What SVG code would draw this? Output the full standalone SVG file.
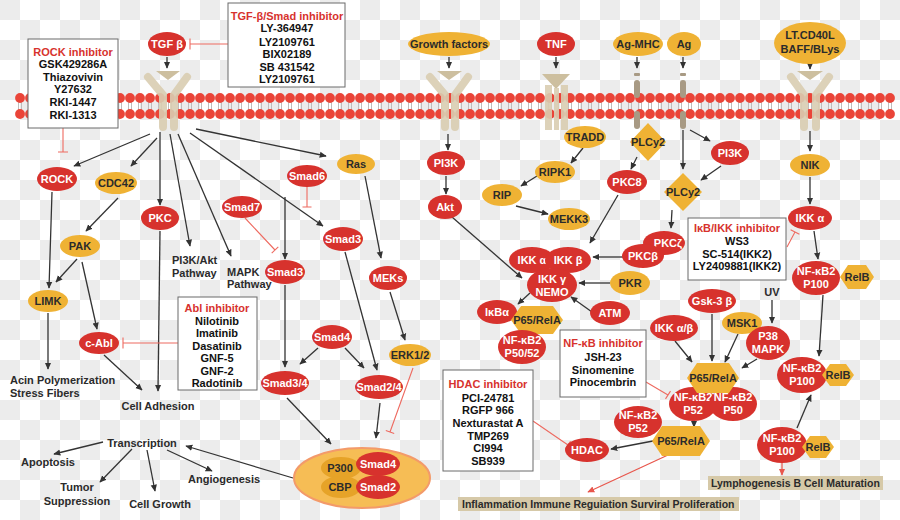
<svg xmlns="http://www.w3.org/2000/svg" width="900" height="520" viewBox="0 0 900 520">
<style>
.r{fill:#d7322d}
.o{fill:#efb234}
.d{fill:#e6a328}
.tw{fill:#fff;font:bold 11px "Liberation Sans",Arial,sans-serif;text-anchor:middle}
.tk{fill:#2b2b2b;font:bold 11px "Liberation Sans",Arial,sans-serif;text-anchor:middle}
.tl{fill:#2b2b2b;font:bold 11px "Liberation Sans",Arial,sans-serif}
.th{fill:#d7322d;font:bold 11px "Liberation Sans",Arial,sans-serif;text-anchor:middle}
.tb{fill:#111;font:bold 11px "Liberation Sans",Arial,sans-serif;text-anchor:middle}
.box{fill:#fff;stroke:#6a6a6a;stroke-width:1}
.ar{stroke:#333;stroke-width:1.3;fill:none;marker-end:url(#ah)}
.ra{stroke:#e8564c;stroke-width:1.2;fill:none;marker-end:url(#rh)}
.inh{stroke:#ee6a60;stroke-width:1.1;fill:none}
.rc{stroke:#d9cdb1;stroke-width:8;fill:none;stroke-linecap:round;opacity:0.9}
.rs{fill:#d9cdb1;opacity:0.9}
.tri{fill:#cdbf9f}
.bar{fill:#a89a84}
.lab{fill:#d6c9a8}
</style>
<defs>
<pattern id="chk" patternUnits="userSpaceOnUse" width="40" height="40">
<rect width="40" height="40" fill="#ffffff"/>
<rect width="20" height="20" fill="#ececec"/>
<rect x="20" y="20" width="20" height="20" fill="#ececec"/>
</pattern>
<pattern id="mem" patternUnits="userSpaceOnUse" x="15" y="92" width="10" height="28">
<line x1="3.5" y1="10" x2="3.5" y2="18" stroke="#bdbdbd" stroke-width="1"/>
<line x1="6.5" y1="10" x2="6.5" y2="18" stroke="#bdbdbd" stroke-width="1"/>
<circle cx="5" cy="6" r="4.9" fill="#ea4438"/>
<circle cx="5" cy="22" r="4.9" fill="#ea4438"/>
</pattern>
<marker id="ah" viewBox="0 0 10 10" refX="9" refY="5" markerWidth="7" markerHeight="7" markerUnits="userSpaceOnUse" orient="auto">
<path d="M0,0.5 L10,5 L0,9.5 z" fill="#333"/>
</marker>
<marker id="rh" viewBox="0 0 10 10" refX="9" refY="5" markerWidth="7" markerHeight="7" markerUnits="userSpaceOnUse" orient="auto">
<path d="M0,0.5 L10,5 L0,9.5 z" fill="#e8564c"/>
</marker>
</defs>

<rect width="900" height="520" fill="url(#chk)"/>

<g id="membrane">
<rect x="15" y="92" width="880" height="28" fill="url(#mem)"/>
</g>

<g id="receptors">
<polygon class="tri" points="156,71 180,71 168,80"/>
<path class="rc" d="M148,77 L163,95 L163,127"/>
<path class="rc" d="M187,77 L174,95 L174,127"/>
<polygon class="tri" points="437,71 462,71 449,80"/>
<path class="rc" d="M430,77 L445,95 L445,127"/>
<path class="rc" d="M468,77 L455,95 L455,127"/>
<polygon class="tri" points="542,74 570,74 556,89"/>
<rect class="rs" x="545" y="85" width="7" height="45"/>
<rect class="rs" x="554" y="88" width="5" height="42"/>
<rect class="rs" x="561" y="85" width="7" height="45"/>
<rect class="bar" x="634" y="73" width="6" height="3" rx="1"/>
<rect class="bar" x="634" y="80" width="6" height="18" rx="3"/>
<rect class="bar" x="634" y="111" width="6" height="18" rx="3"/>
<rect class="bar" x="680" y="73" width="6" height="3" rx="1"/>
<rect class="bar" x="680" y="80" width="6" height="18" rx="3"/>
<rect class="bar" x="680" y="111" width="6" height="18" rx="3"/>
<polygon class="tri" points="797,71 823,71 810,80"/>
<path class="rc" d="M791,77 L804,95 L804,127"/>
<path class="rc" d="M829,77 L816,95 L816,127"/>
</g>

<g id="connectors">
<line class="ar" x1="167" y1="57" x2="167" y2="68"/>
<line class="ar" x1="150" y1="134" x2="74" y2="166"/>
<line class="ar" x1="157" y1="138" x2="131" y2="166"/>
<line class="ar" x1="160" y1="132" x2="160" y2="205"/>
<line class="ar" x1="170" y1="134" x2="190" y2="246"/>
<line class="ar" x1="178" y1="134" x2="231" y2="256"/>
<line class="ar" x1="190" y1="133" x2="323" y2="226"/>
<line class="ar" x1="196" y1="129" x2="326" y2="156"/>
<line class="ar" x1="285" y1="197" x2="285" y2="259"/>
<line class="ar" x1="52" y1="192" x2="49" y2="288"/>
<line class="ar" x1="118" y1="198" x2="86" y2="231"/>
<line class="ar" x1="77" y1="259" x2="56" y2="282"/>
<line class="ar" x1="82" y1="262" x2="97" y2="329"/>
<line class="ar" x1="160" y1="231" x2="158" y2="391"/>
<line class="ar" x1="48" y1="313" x2="48" y2="369"/>
<line class="ar" x1="104" y1="355" x2="142" y2="390"/>
<line class="ar" x1="365" y1="176" x2="381" y2="258"/>
<line class="ar" x1="390" y1="292" x2="405" y2="340"/>
<line class="ar" x1="345" y1="252" x2="377" y2="370"/>
<line class="ar" x1="285" y1="285" x2="285" y2="367"/>
<line class="ar" x1="318" y1="348" x2="300" y2="364"/>
<line class="ar" x1="345" y1="348" x2="364" y2="368"/>
<line class="ar" x1="287" y1="398" x2="331" y2="444"/>
<line class="ar" x1="380" y1="403" x2="376" y2="438"/>
<line class="ar" x1="293" y1="478" x2="186" y2="446"/>
<line class="ar" x1="103" y1="442" x2="54" y2="454"/>
<line class="ar" x1="132" y1="449" x2="100" y2="482"/>
<line class="ar" x1="147" y1="450" x2="155" y2="491"/>
<line class="ar" x1="167" y1="450" x2="212" y2="471"/>

<line class="ar" x1="449" y1="57" x2="449" y2="68"/>
<line class="ar" x1="448" y1="134" x2="448" y2="150"/>
<line class="ar" x1="446" y1="176" x2="446" y2="194"/>
<line class="ar" x1="452" y1="217" x2="522" y2="278"/>
<line class="ar" x1="556" y1="57" x2="556" y2="68"/>
<line class="ar" x1="583" y1="148" x2="571" y2="163"/>
<line class="ar" x1="537" y1="176" x2="521" y2="186"/>
<line class="ar" x1="516" y1="206" x2="548" y2="214"/>
<line class="ar" x1="637" y1="57" x2="637" y2="68"/>
<line class="ar" x1="683" y1="57" x2="683" y2="68"/>
<line class="ar" x1="637" y1="157" x2="631" y2="169"/>
<line class="ar" x1="618" y1="195" x2="590" y2="243"/>
<line class="ar" x1="690" y1="130" x2="710" y2="141"/>
<line class="ar" x1="683" y1="130" x2="683" y2="169"/>
<line class="ar" x1="721" y1="166" x2="701" y2="180"/>
<line class="ar" x1="672" y1="210" x2="671" y2="228"/>
<line class="ar" x1="624" y1="257" x2="593" y2="257"/>
<line class="ar" x1="610" y1="283" x2="579" y2="283"/>
<line class="ar" x1="592" y1="312" x2="571" y2="297"/>
<line class="ar" x1="530" y1="293" x2="518" y2="304"/>

<line class="ar" x1="810" y1="57" x2="810" y2="69"/>
<line class="ar" x1="810" y1="131" x2="810" y2="151"/>
<line class="ar" x1="810" y1="177" x2="810" y2="204"/>
<line class="ar" x1="814" y1="231" x2="818" y2="259"/>
<line class="ar" x1="772" y1="300" x2="772" y2="323"/>
<line class="ar" x1="823" y1="295" x2="819" y2="356"/>
<line class="ar" x1="797" y1="428" x2="811" y2="395"/>
<line class="ar" x1="675" y1="341" x2="692" y2="362"/>
<line class="ar" x1="712" y1="314" x2="712" y2="361"/>
<line class="ar" x1="738" y1="334" x2="725" y2="362"/>
<line class="ar" x1="757" y1="359" x2="742" y2="368"/>
<line class="ar" x1="694" y1="419" x2="694" y2="427"/>
<line class="ar" x1="653" y1="441" x2="611" y2="449"/>
<line class="ra" x1="782" y1="463" x2="782" y2="475"/>
<line class="ra" x1="668" y1="455" x2="588" y2="492"/>

<path class="inh" d="M228,44 H190 M190,38.5 V49.5"/>
<path class="inh" d="M63,128 V152 M58,152 H68"/>
<path class="inh" d="M307,187 V207 M302.5,207 H311.5"/>
<path class="inh" d="M245,218 L275,250 M271.7,253.1 L278.3,246.9"/>
<path class="inh" d="M178,343 H123 M123,337.5 V348.5"/>
<path class="inh" d="M413,368 L390,432 M385.8,430.5 L394.2,433.5"/>
<path class="inh" d="M787,247 L795,232 M790.6,229.7 L799.4,234.3"/>
<path class="inh" d="M533,421 L568,445 M565.5,448.8 L570.5,441.2"/>
<path class="inh" d="M646,382 L668,395 M665.5,398.9 L670.5,391.1"/>
</g>

<g id="tgfb"><ellipse class="r" cx="167" cy="44" rx="19" ry="12"/><text class="tw" x="167" y="48">TGF β</text></g>
<g id="growth-factors"><ellipse class="o" cx="449" cy="44" rx="41" ry="12"/><text class="tk" x="449" y="48">Growth factors</text></g>
<g id="tnf"><ellipse class="r" cx="556" cy="44" rx="19" ry="12"/><text class="tw" x="556" y="48">TNF</text></g>
<g id="ag-mhc"><ellipse class="o" cx="638" cy="44" rx="25" ry="12"/><text class="tk" x="638" y="48">Ag-MHC</text></g>
<g id="ag"><ellipse class="o" cx="684" cy="44" rx="17" ry="12"/><text class="tk" x="684" y="48">Ag</text></g>
<g id="lt"><ellipse class="o" cx="810" cy="43" rx="36" ry="21"/><text class="tk" x="810" y="39">LT.CD40L</text><text class="tk" x="810" y="53">BAFF/BLys</text></g>

<g id="rock-inhibitor"><rect class="box" x="28" y="39" width="90" height="89"/>
<text class="th" x="73" y="56">ROCK inhibitor</text>
<text class="tb" x="73" y="68">GSK429286A</text>
<text class="tb" x="73" y="81">Thiazovivin</text>
<text class="tb" x="73" y="93">Y27632</text>
<text class="tb" x="73" y="106">RKI-1447</text>
<text class="tb" x="73" y="119">RKI-1313</text></g>

<g id="tgfb-inhibitor"><rect class="box" x="228" y="3" width="117" height="84"/>
<text class="th" x="287" y="20">TGF-β/Smad inhibitor</text>
<text class="tb" x="287" y="32">LY-364947</text>
<text class="tb" x="287" y="46">LY2109761</text>
<text class="tb" x="287" y="58">BIX02189</text>
<text class="tb" x="287" y="71">SB 431542</text>
<text class="tb" x="287" y="83">LY2109761</text></g>

<g id="rock"><ellipse class="r" cx="57" cy="179" rx="20" ry="12"/><text class="tw" x="57" y="183">ROCK</text></g>
<g id="cdc42"><ellipse class="o" cx="116" cy="183" rx="21" ry="11"/><text class="tk" x="116" y="187">CDC42</text></g>
<g id="pkc"><ellipse class="r" cx="160" cy="218" rx="19" ry="12"/><text class="tw" x="160" y="222">PKC</text></g>
<g id="pak"><ellipse class="o" cx="80" cy="246" rx="20" ry="11"/><text class="tk" x="80" y="250">PAK</text></g>
<g id="pi3k-akt-pathway"><text class="tl" x="172" y="264">PI3K/Akt</text><text class="tl" x="172" y="277">Pathway</text></g>
<g id="mapk-pathway"><text class="tl" x="227" y="276">MAPK</text><text class="tl" x="227" y="288">Pathway</text></g>
<g id="limk"><ellipse class="o" cx="48" cy="301" rx="20" ry="11"/><text class="tk" x="48" y="305">LIMK</text></g>
<g id="c-abl"><ellipse class="r" cx="99" cy="343" rx="20" ry="11"/><text class="tw" x="99" y="347">c-Abl</text></g>
<g id="acin"><text class="tl" x="10" y="384">Acin Polymerization</text><text class="tl" x="10" y="397">Stress Fibers</text></g>
<g id="cell-adhesion"><text class="tk" x="158" y="410">Cell Adhesion</text></g>

<g id="abl-inhibitor"><rect class="box" x="178" y="297" width="79" height="93"/>
<text class="th" x="217" y="312">Abl inhibitor</text>
<text class="tb" x="217" y="325">Nilotinib</text>
<text class="tb" x="217" y="337">Imatinib</text>
<text class="tb" x="217" y="350">Dasatinib</text>
<text class="tb" x="217" y="362">GNF-5</text>
<text class="tb" x="217" y="375">GNF-2</text>
<text class="tb" x="217" y="387">Radotinib</text></g>

<g id="smad6"><ellipse class="r" cx="307" cy="176" rx="20" ry="11"/><text class="tw" x="307" y="180">Smad6</text></g>
<g id="smad7"><ellipse class="r" cx="242" cy="207" rx="20" ry="11"/><text class="tw" x="242" y="211">Smad7</text></g>
<g id="ras"><ellipse class="o" cx="356" cy="164" rx="19" ry="10"/><text class="tk" x="356" y="168">Ras</text></g>
<g id="smad3-a"><ellipse class="r" cx="343" cy="239" rx="20" ry="12"/><text class="tw" x="343" y="243">Smad3</text></g>
<g id="smad3-b"><ellipse class="r" cx="285" cy="272" rx="20" ry="12"/><text class="tw" x="285" y="276">Smad3</text></g>
<g id="meks"><ellipse class="r" cx="388" cy="278" rx="19" ry="12"/><text class="tw" x="388" y="282">MEKs</text></g>
<g id="smad4"><ellipse class="r" cx="332" cy="337" rx="20" ry="12"/><text class="tw" x="332" y="341">Smad4</text></g>
<g id="erk"><ellipse class="o" cx="410" cy="355" rx="21" ry="11"/><text class="tk" x="410" y="359">ERK1/2</text></g>
<g id="smad34"><ellipse class="r" cx="285" cy="383" rx="24" ry="12"/><text class="tw" x="285" y="387">Smad3/4</text></g>
<g id="smad24"><ellipse class="r" cx="379" cy="387" rx="24" ry="12"/><text class="tw" x="379" y="391">Smad2/4</text></g>

<g id="complex">
<ellipse cx="362" cy="478" rx="68" ry="30" fill="#f6bd55" stroke="#f39a6a" stroke-width="2"/>
<ellipse class="d" cx="341" cy="468" rx="20" ry="11"/>
<ellipse class="d" cx="341" cy="487" rx="20" ry="11"/>
<ellipse class="r" cx="378" cy="464" rx="22" ry="12"/>
<ellipse class="r" cx="378" cy="487" rx="22" ry="12"/>
<text class="tk" x="340" y="472">P300</text>
<text class="tk" x="340" y="491">CBP</text>
<text class="tw" x="378" y="468">Smad4</text>
<text class="tw" x="378" y="491">Smad2</text>
</g>

<g id="transcription"><text class="tk" x="142" y="447">Transcription</text></g>
<g id="apoptosis"><text class="tk" x="48" y="466">Apoptosis</text></g>
<g id="tumor"><text class="tk" x="77" y="491">Tumor</text><text class="tk" x="77" y="505">Suppression</text></g>
<g id="cell-growth"><text class="tk" x="160" y="508">Cell Growth</text></g>
<g id="angiogenesis"><text class="tl" x="188" y="483">Angiogenesis</text></g>

<g id="pi3k-a"><ellipse class="r" cx="446" cy="163" rx="19" ry="12"/><text class="tw" x="446" y="167">PI3K</text></g>
<g id="akt"><ellipse class="r" cx="445" cy="207" rx="17" ry="12"/><text class="tw" x="445" y="211">Akt</text></g>
<g id="tradd"><ellipse class="o" cx="585" cy="137" rx="21" ry="11"/><text class="tk" x="585" y="141">TRADD</text></g>
<g id="ripk1"><ellipse class="o" cx="555" cy="172" rx="20" ry="11"/><text class="tk" x="555" y="176">RIPK1</text></g>
<g id="rip"><ellipse class="o" cx="502" cy="195" rx="20" ry="11"/><text class="tk" x="502" y="199">RIP</text></g>
<g id="mekk3"><ellipse class="o" cx="569" cy="219" rx="21" ry="11"/><text class="tk" x="569" y="223">MEKK3</text></g>
<g id="plcy2-a"><polygon class="o" points="648,123 666,142 648,161 630,142"/><text class="tk" x="648" y="146">PLCy2</text></g>
<g id="pkc8"><ellipse class="r" cx="627" cy="182" rx="20" ry="12"/><text class="tw" x="627" y="186">PKC8</text></g>
<g id="pi3k-b"><ellipse class="r" cx="730" cy="153" rx="19" ry="12"/><text class="tw" x="730" y="157">PI3K</text></g>
<g id="plcy2-b"><polygon class="o" points="683,173 702,192 683,211 664,192"/><text class="tk" x="683" y="196">PLCy2</text></g>
<g id="pkcz"><ellipse class="r" cx="664" cy="243" rx="21" ry="12"/><text class="tw" x="668" y="247">PKCζ</text></g>
<g id="pkcb"><ellipse class="r" cx="643" cy="256" rx="21" ry="12"/><text class="tw" x="643" y="260">PKCβ</text></g>
<g id="ikka-b"><ellipse class="r" cx="532" cy="260" rx="23" ry="13"/><text class="tw" x="532" y="264">IKK α</text></g>
<g id="ikkb"><ellipse class="r" cx="568" cy="260" rx="23" ry="13"/><text class="tw" x="568" y="264">IKK β</text></g>
<g id="nemo"><ellipse class="r" cx="552" cy="285" rx="25" ry="17"/><text class="tw" x="552" y="283">IKK γ</text><text class="tw" x="552" y="296">NEMO</text></g>
<g id="pkr"><ellipse class="o" cx="630" cy="283" rx="20" ry="12"/><text class="tk" x="630" y="287">PKR</text></g>
<g id="atm"><ellipse class="r" cx="610" cy="313" rx="20" ry="12"/><text class="tw" x="610" y="317">ATM</text></g>
<g id="ikba"><ellipse class="r" cx="497" cy="312" rx="20" ry="12"/><text class="tw" x="497" y="316">IκBα</text></g>
<g id="p65-a"><polygon class="o" points="511,320 521,306 553,306 563,320 553,334 521,334"/><text class="tk" x="537" y="324">P65/RelA</text></g>
<g id="nfkb-p5052"><ellipse class="r" cx="522" cy="347" rx="24" ry="17"/><text class="tw" x="522" y="344">NF-κB2</text><text class="tw" x="522" y="357">P50/52</text></g>

<g id="nfkb-inhibitor"><rect class="box" x="560" y="330" width="86" height="67"/>
<text class="th" x="603" y="347">NF-κB inhibitor</text>
<text class="tb" x="603" y="361">JSH-23</text>
<text class="tb" x="603" y="374">Sinomenine</text>
<text class="tb" x="603" y="386">Pinocembrin</text></g>

<g id="hdac-inhibitor"><rect class="box" x="443" y="370" width="90" height="101"/>
<text class="th" x="488" y="388">HDAC inhibitor</text>
<text class="tb" x="488" y="402">PCI-24781</text>
<text class="tb" x="488" y="414">RGFP 966</text>
<text class="tb" x="488" y="427">Nexturastat A</text>
<text class="tb" x="488" y="440">TMP269</text>
<text class="tb" x="488" y="452">CI994</text>
<text class="tb" x="488" y="465">SB939</text></g>

<g id="hdac"><ellipse class="r" cx="587" cy="450" rx="22" ry="12"/><text class="tw" x="587" y="454">HDAC</text></g>
<g id="nfkb-p52-b"><ellipse class="r" cx="638" cy="422" rx="24" ry="16"/><text class="tw" x="638" y="419">NF-κB2</text><text class="tw" x="638" y="432">P52</text></g>
<g id="p65-c"><polygon class="o" points="652,441 662,426 700,426 710,441 700,456 662,456"/><text class="tk" x="681" y="445">P65/RelA</text></g>

<g id="nik"><ellipse class="o" cx="810" cy="165" rx="20" ry="11"/><text class="tk" x="810" y="169">NIK</text></g>
<g id="ikka-r"><ellipse class="r" cx="810" cy="218" rx="22" ry="12"/><text class="tw" x="810" y="222">IKK α</text></g>
<g id="ikb-inhibitor"><rect class="box" x="688" y="218" width="98" height="62"/>
<text class="th" x="737" y="232">IκB/IKK inhibitor</text>
<text class="tb" x="737" y="245">WS3</text>
<text class="tb" x="737" y="258">SC-514(IKK2)</text>
<text class="tb" x="737" y="270">LY2409881(IKK2)</text></g>
<g id="nfkb-p100-a"><ellipse class="r" cx="816" cy="278" rx="24" ry="17"/><text class="tw" x="816" y="275">NF-κB2</text><text class="tw" x="816" y="288">P100</text></g>
<g id="relb-a"><polygon class="o" points="840,277 848,265 866,265 874,277 866,289 848,289"/><text class="tk" x="857" y="281">RelB</text></g>
<g id="uv"><text class="tk" x="772" y="296">UV</text></g>
<g id="gsk3b"><ellipse class="r" cx="712" cy="301" rx="24" ry="12"/><text class="tw" x="712" y="305">Gsk-3 β</text></g>
<g id="msk1"><ellipse class="o" cx="742" cy="323" rx="20" ry="11"/><text class="tk" x="742" y="327">MSK1</text></g>
<g id="ikkab"><ellipse class="r" cx="674" cy="328" rx="24" ry="13"/><text class="tw" x="674" y="332">IKK α/β</text></g>
<g id="p38"><ellipse class="r" cx="768" cy="343" rx="22" ry="17"/><text class="tw" x="768" y="340">P38</text><text class="tw" x="768" y="353">MAPK</text></g>
<g id="nfkb-p52-a"><ellipse class="r" cx="693" cy="404" rx="24" ry="17"/><text class="tw" x="693" y="401">NF-κB2</text><text class="tw" x="693" y="414">P52</text></g>
<g id="nfkb-p50"><ellipse class="r" cx="733" cy="404" rx="24" ry="17"/><text class="tw" x="733" y="401">NF-κB2</text><text class="tw" x="733" y="414">P50</text></g>
<g id="p65-b"><polygon class="o" points="687,378 697,363 729,363 739,378 729,393 697,393"/><text class="tk" x="713" y="382">P65/RelA</text></g>
<g id="nfkb-p100-b"><ellipse class="r" cx="802" cy="375" rx="25" ry="18"/><text class="tw" x="802" y="372">NF-κB2</text><text class="tw" x="802" y="385">P100</text></g>
<g id="relb-b"><polygon class="o" points="822,375 830,364 846,364 854,375 846,386 830,386"/><text class="tk" x="838" y="379">RelB</text></g>
<g id="nfkb-p100-c"><ellipse class="r" cx="782" cy="445" rx="25" ry="18"/><text class="tw" x="782" y="442">NF-κB2</text><text class="tw" x="782" y="455">P100</text></g>
<g id="relb-c"><polygon class="o" points="802,447 810,436 826,436 834,447 826,458 810,458"/><text class="tk" x="818" y="451">RelB</text></g>

<g id="outcome-inflammation"><rect class="lab" x="458" y="497" width="281" height="14"/><text class="tl" x="462" y="508" style="font-size:10.5px">Inflammation Immune Reguiation Surviral Proliferation</text></g>
<g id="outcome-lymph"><rect class="lab" x="708" y="476" width="175" height="14"/><text class="tl" x="711" y="487" style="font-size:10.5px">Lymphogenesis B Cell Maturation</text></g>
</svg>
